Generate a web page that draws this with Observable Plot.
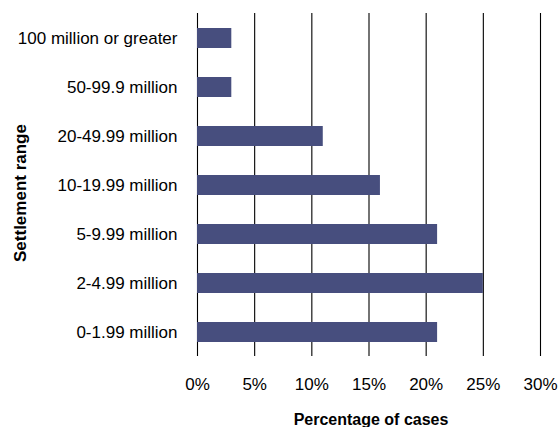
<!DOCTYPE html>
<html>
<head>
<meta charset="utf-8">
<script src="https://cdn.jsdelivr.net/npm/d3@7"></script>
<script src="https://cdn.jsdelivr.net/npm/@observablehq/plot@0.6"></script>
<style>
  html, body { margin: 0; padding: 0; background: #fff; }
  #chart svg { display: block; }
</style>
</head>
<body>
<div id="chart"></div>
<script>
const categories = [
  "100 million or greater",
  "50-99.9 million",
  "20-49.99 million",
  "10-19.99 million",
  "5-9.99 million",
  "2-4.99 million",
  "0-1.99 million"
];
const percentages = [3, 3, 11, 16, 21, 25, 21];
const xTicks = [0, 5, 10, 15, 20, 25, 30];
const xLabel = "Percentage of cases";
const yLabel = "Settlement range";

const data = categories.map((c, i) => ({range: c, pct: percentages[i]}));
const font = "'Liberation Sans', Arial, Helvetica, sans-serif";

const chart = Plot.plot({
  width: 558,
  height: 427,
  marginLeft: 197,
  marginRight: 18,
  marginTop: 13,
  marginBottom: 71,
  style: {fontFamily: font, fontSize: "17px", color: "#000", background: "#fff"},
  x: {domain: [0, 30], ticks: xTicks, tickFormat: d => d + "%"},
  y: {domain: categories, paddingInner: 0.6, paddingOuter: 0.3},
  marks: [
    Plot.ruleX(xTicks, {stroke: "#000", strokeWidth: 1.1}),
    Plot.barX(data, {x: "pct", y: "range", fill: "#474e7e"}),
    Plot.axisX({ticks: xTicks, tickFormat: d => d + "%", tickSize: 0, tickPadding: 21, label: null, fontSize: 17}),
    Plot.axisY({tickSize: 0, tickPadding: 20, label: null, fontSize: 17}),
    Plot.text([xLabel], {frameAnchor: "bottom", dx: 2, dy: 68, fontWeight: "bold", fontSize: 16}),
    Plot.text([yLabel], {frameAnchor: "left", textAnchor: "middle", dx: -177, dy: 8, rotate: -90, fontWeight: "bold", fontSize: 17})
  ]
});
document.getElementById("chart").appendChild(chart);
</script>
</body>
</html>
